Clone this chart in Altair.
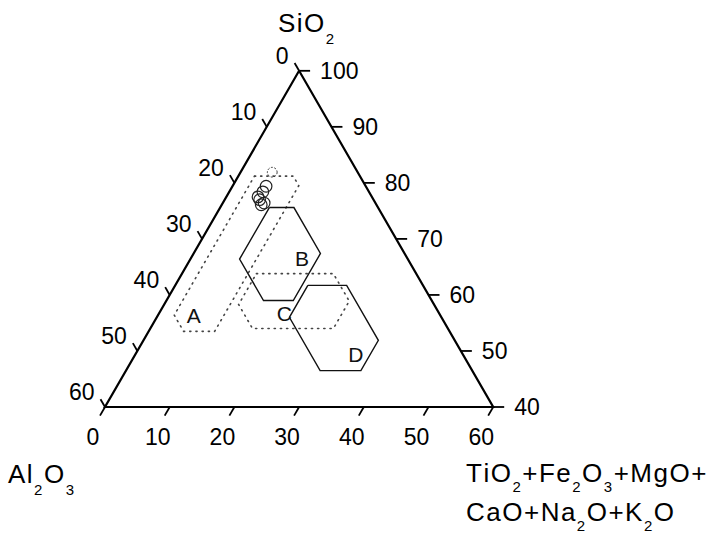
import altair as alt
import pandas as pd

# ---------------- data (ternary %, SiO2 + Al2O3 + others = 100) ----------------
samples_sio2 = [79.4, 78.4, 77.5, 77.0, 76.4, 76.1]
samples_al2o3 = [15.4, 16.4, 17.6, 17.6, 17.2, 17.8]
sample_top_sio2 = [81.9]
sample_top_al2o3 = [13.2]

A_sio2 = [81.2, 81.2, 79.5, 53.5, 53.5, 56.4, 81.2]
A_al2o3 = [16.3, 10.3, 10.3, 36.3, 41.1, 41.1, 16.3]
B_sio2 = [75.6, 75.6, 67.4, 59.0, 59.0, 66.4, 75.6]
B_al2o3 = [16.8, 13.0, 13.0, 21.4, 26.0, 26.0, 16.8]
C_sio2 = [63.8, 63.8, 58.9, 54.0, 54.0, 58.3, 63.8]
C_al2o3 = [24.7, 12.8, 12.8, 17.7, 30.2, 30.2, 24.7]
D_sio2 = [61.7, 61.7, 51.9, 46.5, 46.5, 56.0, 61.7]
D_al2o3 = [17.8, 11.8, 11.8, 17.2, 23.5, 23.5, 17.8]

region_labels = ["A", "B", "C", "D"]
label_sio2 = [56.0, 66.3, 56.5, 49.1]
label_al2o3 = [38.3, 16.4, 24.05, 16.7]

tri_sio2 = [100, 40, 40, 100]
tri_al2o3 = [0, 60, 0, 0]

al2o3_ticks = [0, 10, 20, 30, 40, 50, 60]
others_ticks = [0, 10, 20, 30, 40, 50, 60]
sio2_ticks = [100, 90, 80, 70, 60, 50, 40]

# ---------------- layout ----------------
FONT = "Liberation Sans"
W, H = 706, 534
K = 6.47          # px per ternary unit
OX, OY = 105, 407  # pixel of bottom-left vertex
SQ = 0.8660254
X0 = -OX / K
X1 = X0 + W / K
Y0 = -(H - OY) / K
Y1 = Y0 + H / K
xs = alt.Scale(domain=[X0, X1], nice=False, zero=False)
ys = alt.Scale(domain=[Y0, Y1], nice=False, zero=False)
XE = alt.X("X:Q", scale=xs, axis=None)
YE = alt.Y("Y:Q", scale=ys, axis=None)


def tern(ch):
    return ch.transform_calculate(
        X="(60 + (100 - datum.s - datum.a) - datum.a) / 2",
        Y=f"(datum.s - 40) * {SQ}",
    )


# regions
rows = []
for name, ss, aa in [("A", A_sio2, A_al2o3), ("B", B_sio2, B_al2o3),
                     ("C", C_sio2, C_al2o3), ("D", D_sio2, D_al2o3)]:
    for i, (s, a) in enumerate(zip(ss, aa)):
        rows.append({"region": name, "idx": i, "s": s, "a": a})
reg = pd.DataFrame(rows)

solid = tern(alt.Chart(reg[reg.region.isin(["B", "D"])])).mark_line(
    color="#111", strokeWidth=1.4
).encode(x=XE, y=YE, detail="region:N", order="idx:Q")

dotted = tern(alt.Chart(reg[reg.region.isin(["A", "C"])])).mark_line(
    color="#444", strokeWidth=1.6, strokeDash=[1.2, 5], strokeCap="round",
    interpolate="linear"
).encode(x=XE, y=YE, detail="region:N", order="idx:Q")

tri = pd.DataFrame({"s": tri_sio2, "a": tri_al2o3, "idx": range(len(tri_sio2))})
triangle = tern(alt.Chart(tri)).mark_line(color="#000", strokeWidth=2.2).encode(
    x=XE, y=YE, order="idx:Q")

# ticks
L1 = 9 / K
L2 = 10 / K
L3 = 11 / K
left_df = pd.DataFrame({"v": al2o3_ticks})
bot_df = pd.DataFrame({"v": others_ticks})
right_df = pd.DataFrame({"v": sio2_ticks})


def tick_layers(df, s_expr, a_expr, dxu, dyu, label_kw):
    base = tern(alt.Chart(df).transform_calculate(s=s_expr, a=a_expr)).transform_calculate(
        X2=f"datum.X + ({dxu})", Y2=f"datum.Y + ({dyu})", lab="format(datum.v, 'd')")
    rule = base.mark_rule(color="#000", strokeWidth=1.8).encode(
        x=XE, y=YE, x2="X2:Q", y2="Y2:Q")
    text = base.mark_text(font=FONT, fontSize=23, color="#000", **label_kw).encode(
        x=alt.X("X2:Q", scale=xs, axis=None), y=alt.Y("Y2:Q", scale=ys, axis=None),
        text="lab:N")
    return [rule, text]


left_layers = tick_layers(left_df, "100 - datum.v", "datum.v", -0.5 * L1, SQ * L1,
                          dict(align="right", baseline="middle", dx=-6, dy=-6))
bot_layers = tick_layers(bot_df, "40", "60 - datum.v", -0.5 * L2, -SQ * L2,
                         dict(align="center", baseline="middle", dx=-7, dy=22))
right_layers = tick_layers(right_df, "datum.v", "0", L3, 0,
                           dict(align="left", baseline="middle", dx=10, dy=1))

# samples
smp = pd.DataFrame({"s": samples_sio2, "a": samples_al2o3})
pts = tern(alt.Chart(smp)).mark_point(
    shape="circle", filled=False, color="#222", strokeWidth=1.2, size=135, opacity=1
).encode(x=XE, y=YE)
smp2 = pd.DataFrame({"s": sample_top_sio2, "a": sample_top_al2o3})
pts2 = tern(alt.Chart(smp2)).mark_point(
    shape="circle", filled=False, color="#333", strokeWidth=1.0, size=95,
    strokeDash=[2, 1.5], opacity=1
).encode(x=XE, y=YE)

lab = pd.DataFrame({"s": label_sio2, "a": label_al2o3, "t": region_labels})
labels = tern(alt.Chart(lab)).mark_text(
    font=FONT, fontSize=21, color="#111", align="center", baseline="middle"
).encode(x=XE, y=YE, text="t:N")

# titles (laid out glyph by glyph with subscripts)
ADV = {'S': 667, 'i': 222, 'O': 778, 'A': 667, 'l': 222, 'T': 611, '+': 584, 'F': 611,
       'e': 556, 'M': 833, 'g': 556, 'C': 722, 'a': 556, 'N': 722, 'K': 667}


def layout(runs, x, y, size=26, sub=15, drop=13, track=1.5):
    base, subs = [], []
    for txt, is_sub in runs:
        for ch in txt:
            fs = sub if is_sub else size
            row = {"ch": ch, "X": (x - OX) / K, "Y": (OY - (y + (drop if is_sub else 0))) / K}
            (subs if is_sub else base).append(row)
            x += ADV.get(ch, 556) / 1000 * fs + track
    return base, subs


title_runs = [
    ([("SiO", False), ("2", True)], 278, 32, 12),
    ([("Al", False), ("2", True), ("O", False), ("3", True)], 8, 483, 12),
    ([("TiO", False), ("2", True), ("+Fe", False), ("2", True), ("O", False), ("3", True),
      ("+MgO+", False)], 466, 482, 10),
    ([("CaO+Na", False), ("2", True), ("O+K", False), ("2", True), ("O", False)], 466, 521, 10),
]
tb, ts = [], []
for runs, x, y, drop in title_runs:
    b, s_ = layout(runs, x, y, drop=drop)
    tb += b
    ts += s_
t_base = alt.Chart(pd.DataFrame(tb)).mark_text(
    font=FONT, fontSize=26, color="#000", align="left", baseline="alphabetic"
).encode(x=XE, y=YE, text="ch:N")
t_sub = alt.Chart(pd.DataFrame(ts)).mark_text(
    font=FONT, fontSize=15, color="#000", align="left", baseline="alphabetic"
).encode(x=XE, y=YE, text="ch:N")

chart = alt.layer(
    dotted, solid, triangle, *left_layers, *bot_layers, *right_layers,
    pts, pts2, labels, t_base, t_sub
).properties(
    width=W, height=H, autosize=alt.AutoSizeParams(type="none"), padding=0,
    background="white"
).configure_view(stroke=None)

chart.save("out.html", embed_options={"renderer": "svg", "actions": False})
